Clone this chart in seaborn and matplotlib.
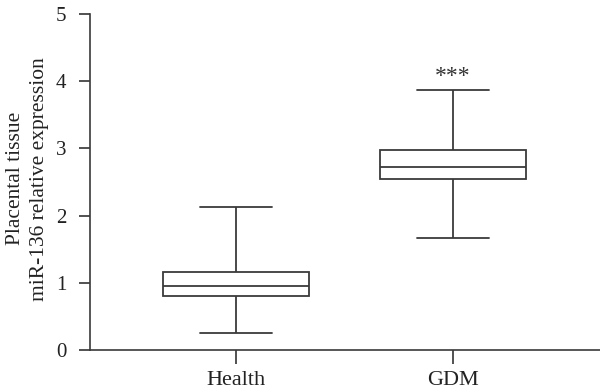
import matplotlib
matplotlib.use("Agg")
import matplotlib.pyplot as plt
import seaborn as sns
import pandas as pd

groups = ["Health", "GDM"]
# five-number summaries: min, q1, median, q3, max
health_stats = [0.25, 0.80, 0.95, 1.16, 2.13]
gdm_stats = [1.66, 2.55, 2.72, 2.98, 3.87]
y_ticks = [0, 1, 2, 3, 4, 5]
ylabel = "Placental tissue\nmiR-136 relative expression"
sig_label = "***"

df = pd.DataFrame({
    "group": [groups[0]] * len(health_stats) + [groups[1]] * len(gdm_stats),
    "value": health_stats + gdm_stats,
})

sns.set_style("ticks")
plt.rcParams["font.family"] = ["Liberation Serif", "DejaVu Serif"]

fig = plt.figure(figsize=(6, 3.9), dpi=100)
ax = fig.add_axes([0.15, 0.1026, 0.85, 0.8615])

line_col = "#3a3a3a"
lw = 1.3
sns.boxplot(data=df, x="group", y="value", order=groups, whis=(0, 100),
            width=0.67, color="white", linecolor=line_col, linewidth=lw,
            ax=ax, showfliers=False)
for line in ax.lines:
    line.set_color(line_col)

ax.set_xlim(-0.673, 1.677)
ax.set_ylim(0, 5)
ax.set_yticks(y_ticks)
ax.set_xlabel("")
ax.set_ylabel(ylabel, fontsize=15.5, color="#222222", linespacing=1.35)
ax.yaxis.set_label_coords(-0.08, 0.51)
ax.tick_params(axis="both", colors="#333333", width=1.2, labelcolor="#222222")
ax.tick_params(axis="y", length=8, pad=9, labelsize=15)
ax.tick_params(axis="x", length=10, pad=5, labelsize=16)
sns.despine(ax=ax)
for s in ["left", "bottom"]:
    ax.spines[s].set_color(line_col)
    ax.spines[s].set_linewidth(1.2)

ax.text(1, gdm_stats[-1] + 0.04, sig_label, ha="center", va="bottom",
        fontsize=17, color="#333333")

fig.savefig("out.png", dpi=100)
